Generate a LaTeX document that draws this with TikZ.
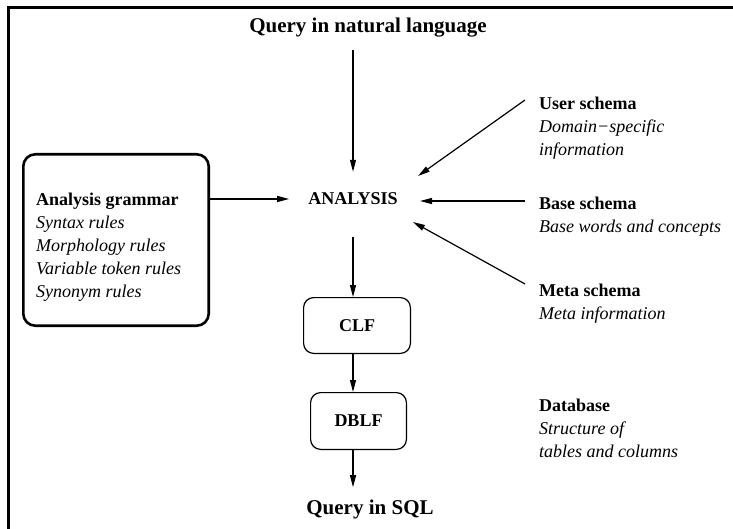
\documentclass[tikz,border=0pt]{standalone}
\usepackage{fontspec}
\setmainfont{Liberation Serif}
\usetikzlibrary{arrows.meta}
\usetikzlibrary{calc,positioning}

\begin{document}
\begin{tikzpicture}[x=1pt,y=-1pt,
  flow/.style={line width=1.2pt, -{Triangle[length=12pt,width=6pt]}},
  txt/.style={font=\fontsize{18}{23}\selectfont, inner sep=0pt, align=left, anchor=north west},
  big/.style={font=\fontsize{21}{25}\selectfont\bfseries, inner sep=0pt, anchor=base},
  stage/.style={draw, line width=1.2pt, rounded corners=10pt, inner sep=0pt, font=\fontsize{18}{23}\selectfont\bfseries}]
\useasboundingbox (0,0) rectangle (733,529);
\draw[line width=2.8pt] (8.5,529) -- (8.5,7.5) -- (733,7.5);

\node[big] (nlq) at (368,33) {Query in natural language};
\node[font=\fontsize{18}{23}\selectfont\bfseries, inner sep=0pt] (analysis) at (353,199) {ANALYSIS};

% grammar box on the left
\node[draw, line width=2.6pt, rounded corners=12pt, minimum width=185.4pt, minimum height=171.4pt] (grammar) at (116,240) {};
\node[txt] (rules) at (36,192.7) {\textbf{Analysis grammar}\\ \textit{Syntax rules}\\ \textit{Morphology rules}\\ \textit{Variable token rules}\\ \textit{Synonym rules}};

% schemas on the right
\node[txt] (user) at (539,96.7) {\textbf{User schema}\\ \textit{Domain−specific}\\ \textit{information}};
\node[txt] (base) at (539,196.7) {\textbf{Base schema}\\ \textit{Base words and concepts}};
\node[txt] (meta) at (539,283.7) {\textbf{Meta schema}\\ \textit{Meta information}};
\node[txt] (db) at (539,398.7) {\textbf{Database}\\ \textit{Structure of}\\ \textit{tables and columns}};

\node[stage, minimum width=106.8pt, minimum height=55.8pt] (clf) at (357,325.5) {CLF};
\node[stage, minimum width=95.8pt, minimum height=56.8pt] (dblf) at (358.5,421) {DBLF};
\node[big] (sql) at (370,514) {Query in SQL};

\draw[flow, shorten <=12pt, shorten >=21pt] (analysis |- nlq.south) -- (analysis.north);
\draw[flow, shorten >=19pt] (grammar.east |- analysis) -- (analysis.west);
\draw[flow] ($(user.north west)+(-14,3.3)$) -- ($(analysis.center)+(65,-23)$);
\draw[flow] ($(base.north west)+(-14,4.3)$) -- ($(analysis.center)+(67,2)$);
\draw[flow] ($(meta.north west)+(-14,0.3)$) -- ($(analysis.center)+(60,23)$);
\draw[flow, shorten <=32pt] (analysis.south) -- (analysis |- clf.north);
\draw[flow] (analysis |- clf.south) -- (analysis |- dblf.north);
\draw[flow, shorten >=12pt] (analysis |- dblf.south) -- (analysis |- sql.north);
\end{tikzpicture}
\end{document}
